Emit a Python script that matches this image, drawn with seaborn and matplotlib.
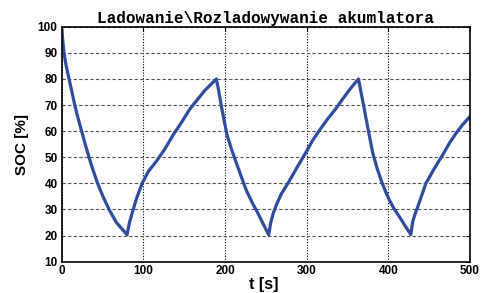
import matplotlib
matplotlib.use("Agg")
import matplotlib.pyplot as plt
import seaborn as sns
import pandas as pd

# ---- data ----
t_s = [0, 1.2, 2.8, 5.5, 9, 12.5, 16, 20, 24.4, 28.8, 33.4, 38.5, 44, 50.5, 58, 67, 74, 80,
       83, 87.5, 92.5, 98.5, 106, 116, 126, 136.4, 146, 157, 166, 175, 183, 189.5,
       192.5, 195.6, 199, 202.5, 208, 214, 220, 226, 233, 240.4, 247, 253.5,
       256, 259, 262.8, 269, 277, 288, 299.5, 307, 315.8, 326, 336, 344, 352.4, 358, 363.4,
       366.5, 370.8, 375, 381, 386, 391, 396, 401.3, 407, 413.6, 420, 427.5,
       430, 433, 436, 441, 446, 456, 466.5, 475, 483, 491, 500]
soc_pct = [100, 95, 90, 85, 80, 75, 70, 65, 60, 55, 50, 45, 40, 35, 30, 25, 22.5, 20.3,
           25, 30, 35, 40, 44.5, 48.5, 53, 58.5, 63, 68.5, 72, 75.5, 78, 80,
           75, 69.4, 64, 58.5, 53, 47.7, 42.5, 37.4, 32.8, 28.5, 24.3, 20.3,
           25, 28.5, 31.7, 36, 40, 46, 52.1, 56.3, 60.4, 64.8, 68.7, 72.3, 75.8, 78, 80,
           75, 68, 61, 51.5, 46, 41.3, 37.3, 33.6, 30.3, 27.2, 24, 20.4,
           25.5, 28.5, 31, 35.5, 40, 45.5, 50.9, 55.5, 59.2, 62.5, 65.6]
x_ticks = [0, 100, 200, 300, 400, 500]
y_ticks = [10, 20, 30, 40, 50, 60, 70, 80, 90, 100]
title_text = "Ladowanie\\Rozladowywanie akumlatora"
x_label = "t [s]"
y_label = "SOC [%]"

df = pd.DataFrame({"t": t_s, "soc": soc_pct})

sns.set_style("white")
plt.rcParams["font.family"] = ["Liberation Sans", "DejaVu Sans"]
plt.rcParams["text.color"] = "black"
plt.rcParams["axes.labelcolor"] = "black"
plt.rcParams["xtick.color"] = "black"
plt.rcParams["ytick.color"] = "black"

fig = plt.figure(figsize=(4.83, 2.93), dpi=100)
ax = fig.add_axes([61.7 / 483, 1 - 261.7 / 293, (470 - 61.7) / 483, (261.7 - 26.7) / 293])

sns.lineplot(data=df, x="t", y="soc", ax=ax, sort=False, color="#2f4d9e",
             linewidth=2.3, estimator=None)

ax.set_xlim(0, 500)
ax.set_ylim(10, 100)
ax.set_xticks(x_ticks)
ax.set_yticks(y_ticks)
ax.set_xticklabels([str(v) for v in x_ticks], fontweight="bold", fontsize=8.5)
ax.set_yticklabels([str(v) for v in y_ticks], fontweight="bold", fontsize=8.5)

ax.tick_params(direction="in", length=3, width=0.8, top=True, right=True,
               color="black", labelcolor="black")
ax.tick_params(axis="x", pad=2.5)
ax.tick_params(axis="y", pad=3)

ax.yaxis.grid(True, color="#555555", linestyle=(0, (3, 2)), linewidth=0.8)
ax.xaxis.grid(True, color="black", linestyle=(0, (1, 1.5)), linewidth=0.8)
ax.set_axisbelow(True)

for side in ["left", "bottom", "right", "top"]:
    ax.spines[side].set_visible(True)
    ax.spines[side].set_color("black")
    ax.spines[side].set_linewidth(1.2)

ax.set_xlabel(x_label, fontsize=11.5, fontweight="bold", color="black")
ax.set_ylabel(y_label, fontsize=11, fontweight="bold", color="black")
ax.xaxis.set_label_coords(0.495, -0.099)
ax.xaxis.label.set_va("center")
ax.yaxis.set_label_coords(-0.098, 0.5)
ax.yaxis.label.set_va("center")

ax.set_title(title_text, family=["Liberation Mono", "DejaVu Sans Mono"],
             fontweight="bold", fontsize=11.5, pad=3, color="black")

fig.savefig("out.png", dpi=100)
